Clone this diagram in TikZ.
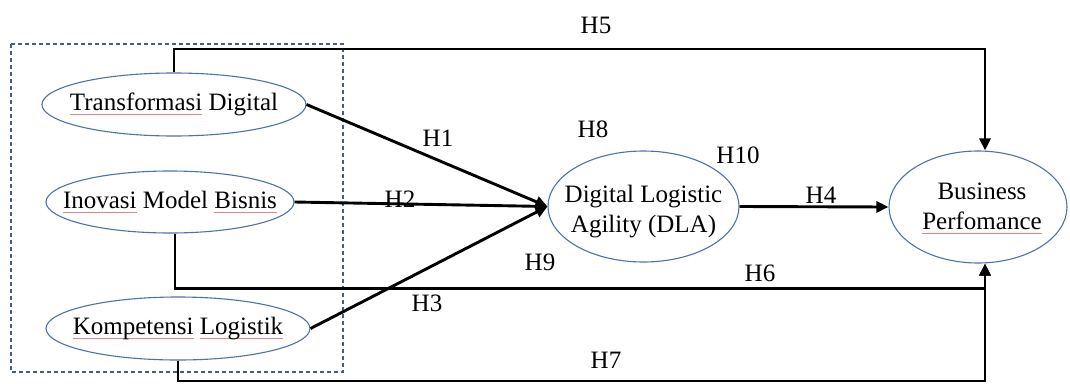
\documentclass[tikz,border=0pt]{standalone}
\usepackage{fontspec}
\setmainfont{Liberation Serif}
\usetikzlibrary{shapes.geometric,arrows.meta}

\definecolor{ovalline}{RGB}{79,113,170}
\definecolor{groupline}{RGB}{72,92,125}
\definecolor{spellred}{RGB}{235,130,130}

% thin red mark under a word
\newsavebox{\spellbox}
\newcommand{\spellmark}[1]{\sbox{\spellbox}{#1}\rlap{\color{spellred}\raisebox{-4pt}{\rule{\wd\spellbox}{0.5pt}}}\usebox{\spellbox}}

\begin{document}
\begin{tikzpicture}[x=1pt,y=-1pt,
  construct/.style={ellipse,draw=ovalline,line width=1.1pt,inner sep=0pt,
    font=\fontsize{25}{30}\selectfont},
  link/.style={line width=2.9pt,-{Triangle[length=12pt,width=11pt]}},
  hyp/.style={font=\fontsize{25}{30}\selectfont,inner sep=0pt},
  groupbox/.style={draw=groupline,line width=1.1pt,dash pattern=on 4pt off 3pt}]

  \fill[white] (0,0) rectangle (1070,383);
  \useasboundingbox (0,0) rectangle (1070,383);

  % group of independent constructs
  \draw[groupbox] (11,44) rectangle (343,372);

  % constructs
  \node[construct,minimum width=264pt,minimum height=63pt] (td) at (174,104.5)
    {\makebox[0pt]{\spellmark{Transformasi} Digital}};
  \node[construct,minimum width=248pt,minimum height=62pt] (imb) at (170,202)
    {\makebox[0pt]{\spellmark{Inovasi} Model \spellmark{Bisnis}}};
  \node[construct,minimum width=264pt,minimum height=63pt] (kl) at (178,328.5)
    {\makebox[0pt]{\spellmark{Kompetensi} \spellmark{Logistik}}};
  \node[construct,minimum width=191pt,minimum height=111pt] (dla) at (643.5,206.5)
    {\makebox[0pt]{\raisebox{-5pt}[\height][\depth]{\begin{tabular}{@{}c@{}}Digital Logistic\\Agility (DLA)\end{tabular}}}};
  \node[construct,minimum width=178pt,minimum height=112pt] (bp) at (978,207)
    {\makebox[0pt]{\hspace{8pt}\raisebox{-1pt}[\height][\depth]{\begin{tabular}{@{}c@{}}Business\\\spellmark{Perfomance}\end{tabular}}}};

  % routing rows
  \coordinate (toprow) at (0,49);
  \coordinate (midrow) at (0,288.5);
  \coordinate (lowrow) at (0,381);

  % hypothesis paths
  \draw[link] (td.east) -- (dla.west);
  \draw[link] (imb.east) -- (dla.west);
  \draw[link] (kl.east) -- (dla.west);
  \draw[link] (dla.east) -- (bp.west);
  \draw[link] (td.north) -- (td.north |- toprow) -| ([xshift=7pt]bp.north);
  \draw[link] ([xshift=5pt]imb.south) -- ([xshift=5pt]imb.south |- midrow) -| ([xshift=7pt]bp.south);
  \draw[link] (kl.south) -- (kl.south |- lowrow) -| ([xshift=7pt]bp.south);

  % hypothesis labels
  \node[hyp] (h1) at (438,138) {H1};
  \node[hyp] (h2) at (400,199) {H2};
  \node[hyp] (h3) at (427,303) {H3};
  \node[hyp] (h4) at (821,195) {H4};
  \node[hyp] (h5) at (596,25) {H5};
  \node[hyp] (h6) at (760,273) {H6};
  \node[hyp] (h7) at (606,360) {H7};
  \node[hyp] (h8) at (593,129) {H8};
  \node[hyp] (h9) at (540,262) {H9};
  \node[hyp] (h10) at (738,155) {H10};
\end{tikzpicture}
\end{document}
